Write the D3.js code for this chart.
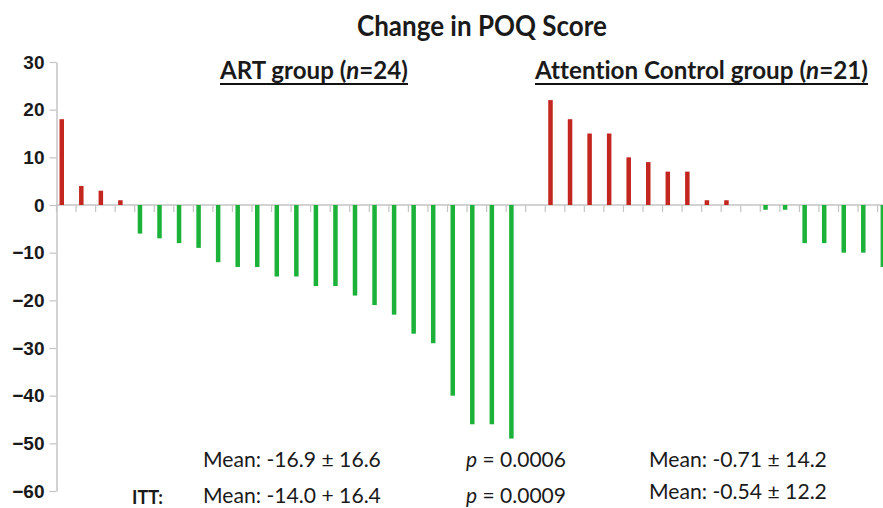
<!DOCTYPE html>
<html>
<head>
<meta charset="utf-8">
<script src="https://cdn.jsdelivr.net/npm/d3@7"></script>
<style>
  html, body { margin: 0; padding: 0; background: #fff; }
  svg { display: block; }
  text { font-variant-ligatures: none; }
</style>
</head>
<body>
<script>
// Change in POQ score per participant, sorted within each group
const artValues = [18, 4, 3, 1, -6, -7, -8, -9, -12, -13, -13, -15, -15, -17, -17, -19, -21, -23, -27, -29, -40, -46, -46, -49];
const controlValues = [22, 18, 15, 15, 10, 9, 7, 7, 1, 1, 0, -1, -1, -8, -8, -10, -10, -13];
const yTicks = [30, 20, 10, 0, -10, -20, -30, -40, -50, -60];

const titleText = "Change in POQ Score";
const groupLabels = [
  { name: "ART group (", n: "n", rest: "=24)" },
  { name: "Attention Control group (", n: "n", rest: "=21)" }
];
const statsRow1 = ["Mean: -16.9 \u00B1 16.6", "0.0006", "Mean: -0.71 \u00B1 14.2"];
const statsRow2 = ["Mean: -14.0 + 16.4", "0.0009", "Mean: -0.54 \u00B1 12.2"];

const W = 883, H = 508;
const RED = "#c2261f", GREEN = "#1cb23a", AXIS = "#c4c4c4";

// one slot per participant, with an empty slot separating the groups
const rows = [
  ...artValues.map((v, i) => ({ key: "A" + i, value: v })),
  { key: "gap", value: null },
  ...controlValues.map((v, i) => ({ key: "C" + i, value: v }))
];

const svg = d3.select("body").append("svg")
  .attr("width", W).attr("height", H)
  .style("font-family", "Lato, 'Open Sans', sans-serif");

const step = 19.55, x0 = 56.5;
const x = d3.scaleBand()
  .domain(rows.map(d => d.key))
  .range([x0, x0 + rows.length * step])
  .paddingInner(0).paddingOuter(0);

const y = d3.scaleLinear().domain([-60, 30]).range([491, 62]);

// y axis
const yAxis = svg.append("g")
  .attr("transform", `translate(${x0},0)`)
  .call(d3.axisLeft(y).tickValues(yTicks).tickSize(7).tickPadding(5).tickSizeOuter(0));
yAxis.select(".domain").attr("stroke", AXIS).attr("stroke-width", 1.5);
yAxis.selectAll(".tick line").attr("stroke", AXIS).attr("stroke-width", 1.2);
yAxis.selectAll(".tick text")
  .style("font-family", "'Liberation Sans', Arial, sans-serif")
  .style("font-weight", "bold")
  .style("font-size", "19px")
  .attr("fill", "#1a1a1a");

// zero line with category ticks at slot boundaries
const xAxis = svg.append("g")
  .attr("transform", `translate(0,${y(0)})`)
  .call(d3.axisBottom(x).tickSize(7).tickFormat("").tickSizeOuter(0));
xAxis.select(".domain").attr("stroke", AXIS).attr("stroke-width", 1.5)
  .attr("d", `M${x0},0H${W}`);
xAxis.selectAll(".tick").attr("transform", d => `translate(${x(d)},0)`);
xAxis.selectAll(".tick line").attr("stroke", AXIS).attr("stroke-width", 1.2);

// bars
svg.append("g").selectAll("rect")
  .data(rows.filter(d => d.value !== null && d.value !== 0))
  .join("rect")
  .attr("x", d => x(d.key) + 3)
  .attr("width", 4.5)
  .attr("y", d => y(Math.max(0, d.value)))
  .attr("height", d => Math.abs(y(d.value) - y(0)))
  .attr("fill", d => d.value > 0 ? RED : GREEN);

// place a text at (xp, yp) and squeeze it horizontally to the given width
function fitText(parts, xp, yp, width, size, weight) {
  const g = svg.append("g");
  const t = g.append("text")
    .style("font-size", size + "px")
    .style("font-weight", weight || "normal")
    .attr("fill", "#1a1a1a");
  parts.forEach(p => {
    t.append("tspan").style("font-style", p.italic ? "italic" : "normal").text(p.text);
  });
  const len = t.node().getComputedTextLength();
  g.attr("transform", `translate(${xp},${yp}) scale(${width / len},1)`);
  return g;
}

// title
fitText([{ text: titleText }], 357, 36, 250, 28, "bold");

// group headings, underlined
const headPos = [{ x: 220, len: 188 }, { x: 535, len: 333 }];
groupLabels.forEach((g, i) => {
  fitText([{ text: g.name }, { text: g.n, italic: true }, { text: g.rest }],
    headPos[i].x, 79, headPos[i].len, 25, "bold");
  svg.append("line")
    .attr("x1", headPos[i].x).attr("x2", headPos[i].x + headPos[i].len)
    .attr("y1", 84).attr("y2", 84)
    .attr("stroke", "#111").attr("stroke-width", 2);
});

// summary statistics
const meanW = 178, pW = 100;
fitText([{ text: statsRow1[0] }], 203, 467, meanW, 22);
fitText([{ text: "p", italic: true }, { text: " = " + statsRow1[1] }], 466, 467, pW, 22);
fitText([{ text: statsRow1[2] }], 649, 467, meanW, 22);

fitText([{ text: "ITT:" }], 132, 504, 31, 18, "bold");
fitText([{ text: statsRow2[0] }], 203, 503, meanW, 22);
fitText([{ text: "p", italic: true }, { text: " = " + statsRow2[1] }], 466, 503, pW, 22);
fitText([{ text: statsRow2[2] }], 649, 499, meanW, 22);
</script>
</body>
</html>
